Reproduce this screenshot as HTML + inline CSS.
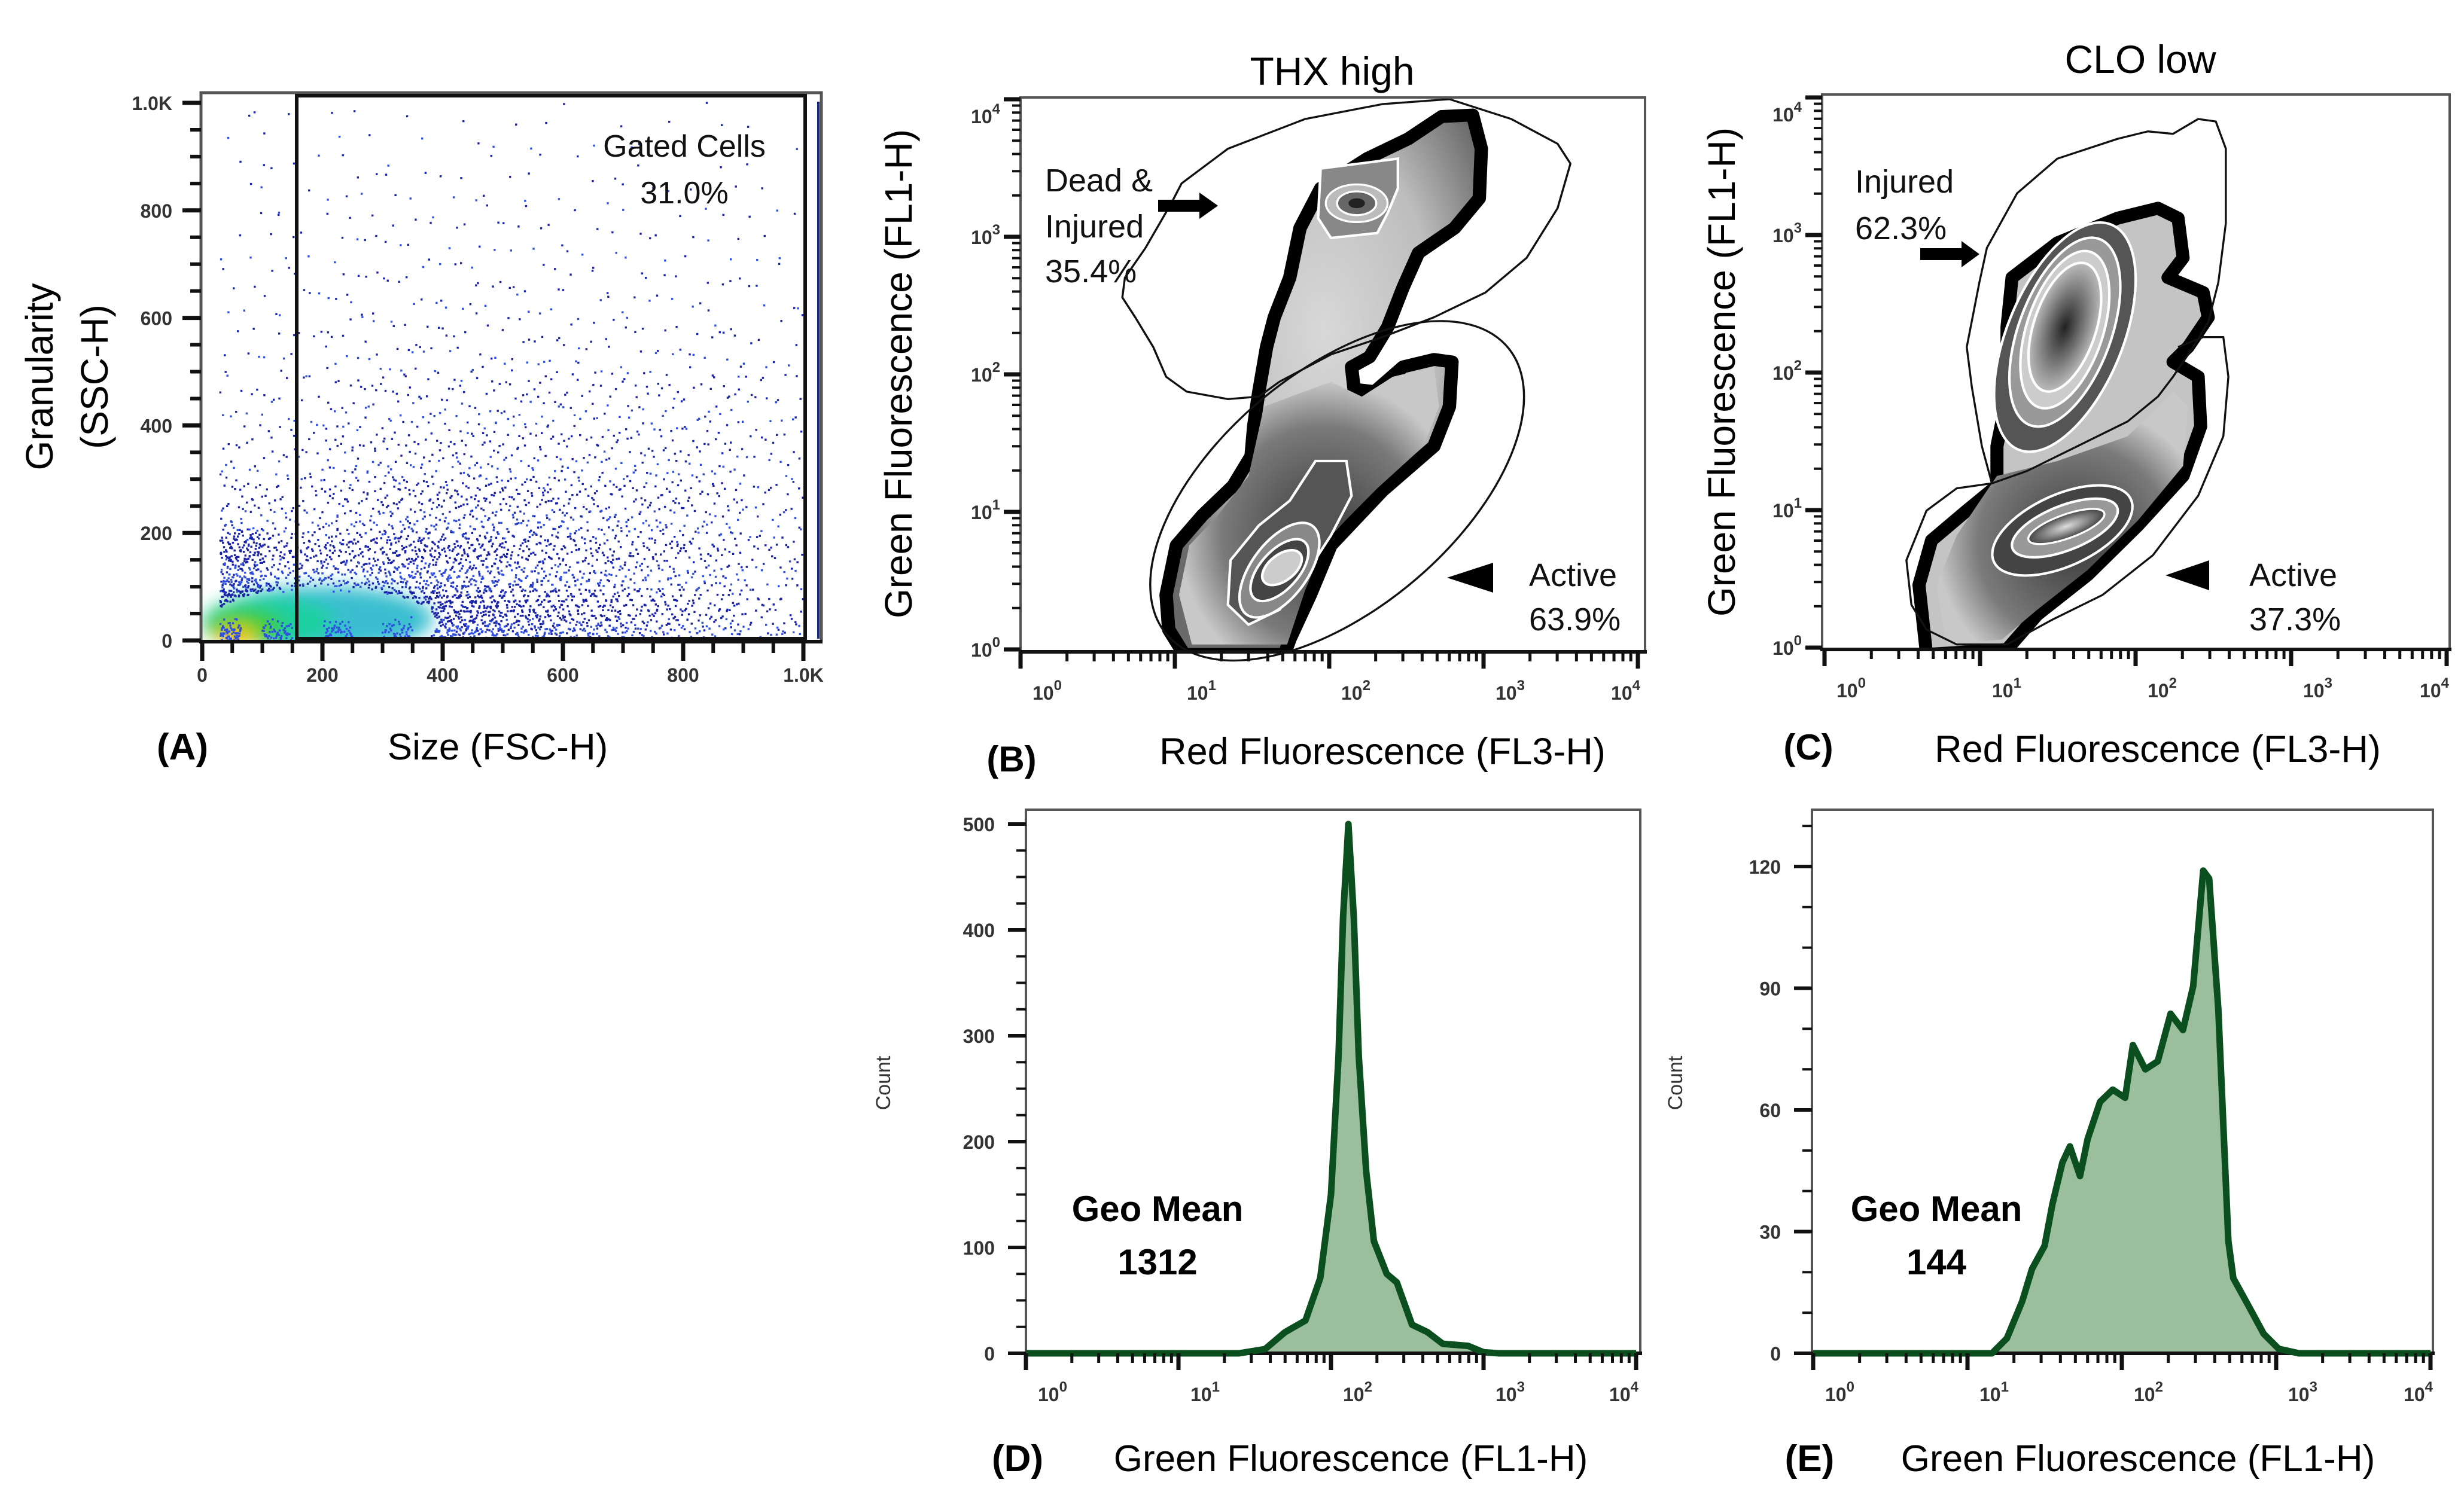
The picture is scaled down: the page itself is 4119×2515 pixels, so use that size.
<!DOCTYPE html>
<html><head><meta charset="utf-8"><title>Flow cytometry panels</title>
<style>
html,body{margin:0;padding:0;background:#fff;}
svg{display:block;}
text{font-family:"Liberation Sans",sans-serif;}
</style></head>
<body>
<svg id="fig" xmlns="http://www.w3.org/2000/svg" width="4119" height="2515" viewBox="0 0 4119 2515">
<defs>
<filter id="blur" x="-50%" y="-50%" width="200%" height="200%"><feGaussianBlur stdDeviation="14"/></filter>
<clipPath id="clipA"><rect x="336" y="155" width="1035" height="916"/></clipPath>
<clipPath id="clipB"><rect x="1706" y="163" width="1044" height="927"/></clipPath>
<clipPath id="clipC"><rect x="3046" y="158" width="1049" height="928"/></clipPath>
<radialGradient id="gUp" cx="50%" cy="40%" r="60%"><stop offset="0" stop-color="#d8d8d8"/><stop offset="0.6" stop-color="#bdbdbd"/><stop offset="1" stop-color="#6a6a6a"/></radialGradient>
<radialGradient id="gLow" cx="55%" cy="60%" r="55%"><stop offset="0" stop-color="#3a3a3a"/><stop offset="0.7" stop-color="#7a7a7a"/><stop offset="1" stop-color="#c8c8c8"/></radialGradient>
<radialGradient id="gRing" cx="50%" cy="50%" r="50%"><stop offset="0" stop-color="#222"/><stop offset="1" stop-color="#bbb"/></radialGradient>
<radialGradient id="gRing2" cx="50%" cy="50%" r="50%"><stop offset="0" stop-color="#ddd"/><stop offset="1" stop-color="#444"/></radialGradient>
</defs>

<g>
  <text x="88" y="630" font-size="64" text-anchor="middle" transform="rotate(-90 88 630)">Granularity</text>
  <text x="180" y="630" font-size="64" text-anchor="middle" transform="rotate(-90 180 630)">(SSC-H)</text>
  <text x="832" y="1270" font-size="62" text-anchor="middle">Size (FSC-H)</text>
  <text x="305" y="1270" font-size="62" font-weight="bold" text-anchor="middle">(A)</text>
  <g id="aDots" clip-path="url(#clipA)"></g>
  <g id="aAxes"></g>
  <rect x="496" y="160" width="850" height="908" fill="none" stroke="#111" stroke-width="6"/>
  <text x="1144" y="262" font-size="52" text-anchor="middle" fill="#111">Gated Cells</text>
  <text x="1144" y="340" font-size="52" text-anchor="middle" fill="#111">31.0%</text>
</g>

<g>
  <text x="2227" y="142" font-size="66" text-anchor="middle">THX high</text>
  <text x="1524" y="625" font-size="64" text-anchor="middle" transform="rotate(-90 1524 625)">Green Fluorescence (FL1-H)</text>
  <text x="2311" y="1278" font-size="63" text-anchor="middle">Red Fluorescence (FL3-H)</text>
  <text x="1691" y="1290" font-size="60" font-weight="bold" text-anchor="middle">(B)</text>
  <g clip-path="url(#clipB)">
   <g transform="matrix(0.861,0,0,0.829,1450,0)">
    <path d="M1115,235 L1175,232 L1192,300 L1188,400 L1140,460 L1070,510 L1040,580 L1010,660 L975,720 L940,740 L945,785 L985,790 L1040,740 L1100,725 L1135,730 L1130,820 L1100,900 L1000,990 L900,1100 L860,1200 L820,1290 L810,1320 L615,1320 L585,1270 L580,1200 L600,1100 L650,1040 L710,980 L745,920 L750,860 L760,790 L775,700 L790,640 L820,560 L840,460 L880,380 L970,320 L1050,280 Z" fill="url(#gUp)" stroke="#000" stroke-width="26" stroke-linejoin="round"/>
    <path d="M770,820 L900,770 L960,800 L1020,760 L1100,740 L1110,820 L1080,900 L990,985 L890,1090 L850,1190 L815,1300 L630,1300 L605,1200 L625,1100 L680,1040 L740,960 Z" fill="url(#gLow)"/>
    <path d="M870,930 L930,930 L940,1000 L900,1080 L850,1160 L800,1230 L740,1260 L700,1220 L705,1130 L760,1060 L820,1010 Z" fill="#555" stroke="#fff" stroke-width="5"/>
    <ellipse cx="800" cy="1150" rx="110" ry="55" transform="rotate(-55 800 1150)" fill="#888" stroke="#fff" stroke-width="5"/>
    <ellipse cx="800" cy="1150" rx="75" ry="38" transform="rotate(-50 800 1150)" fill="#444" stroke="#fff" stroke-width="5"/>
    <ellipse cx="805" cy="1145" rx="45" ry="26" transform="rotate(-40 805 1145)" fill="#ccc" stroke="#fff" stroke-width="5"/>
    <path d="M880,340 L1030,320 L1030,380 L1010,430 L990,470 L900,480 L875,440 Z" fill="#888" stroke="#fff" stroke-width="5"/>
    <ellipse cx="950" cy="410" rx="60" ry="38" fill="#bbb" stroke="#fff" stroke-width="4"/>
    <ellipse cx="950" cy="410" rx="38" ry="24" fill="#666" stroke="#fff" stroke-width="4"/>
    <ellipse cx="950" cy="410" rx="16" ry="10" fill="#222"/>
   </g>
  </g>
  <g transform="matrix(0.861,0,0,0.829,1450,0)">
    <path d="M760,800 L700,805 L620,790 L580,760 L555,700 L520,640 L495,600 L500,560 L540,500 L590,410 L610,370 L700,300 L850,240 L1000,210 L1130,200 L1250,240 L1340,290 L1365,330 L1340,420 L1280,520 L1200,590 L1100,640 L1000,680 L900,715 L800,770 Z" fill="none" stroke="#111" stroke-width="4" stroke-linejoin="round"/>
    <ellipse cx="912" cy="990" rx="440" ry="235" transform="rotate(-42 912 990)" fill="none" stroke="#111" stroke-width="4"/>
  </g>
  <g id="bAxes"></g>
  <text x="1747" y="320" font-size="54" fill="#111">Dead &amp;</text>
  <text x="1747" y="397" font-size="54" fill="#111">Injured</text>
  <text x="1747" y="472" font-size="54" fill="#111">35.4%</text>
  <path d="M1936,334 L2005,334 L2005,322 L2036,344 L2005,366 L2005,354 L1936,354 Z" fill="#000"/>
  <path d="M2419,966 L2496,941 L2496,991 Z" fill="#000"/>
  <text x="2556" y="980" font-size="54" fill="#111">Active</text>
  <text x="2556" y="1054" font-size="54" fill="#111">63.9%</text>
</g>

<g>
  <text x="3578" y="122" font-size="66" text-anchor="middle">CLO low</text>
  <text x="2900" y="622" font-size="64" text-anchor="middle" transform="rotate(-90 2900 622)">Green Fluorescence (FL1-H)</text>
  <text x="3607" y="1274" font-size="63" text-anchor="middle">Red Fluorescence (FL3-H)</text>
  <text x="3023" y="1270" font-size="60" font-weight="bold" text-anchor="middle">(C)</text>
  <g clip-path="url(#clipC)">
   <g transform="matrix(0.841,0,0,0.829,2800,0)">
    <path d="M670,560 L760,490 L880,440 L960,420 L1000,440 L1010,520 L980,560 L1050,590 L1060,640 L1020,700 L990,730 L1040,760 L1045,860 L1010,960 L920,1060 L820,1160 L720,1240 L660,1310 L500,1320 L485,1180 L510,1090 L580,1030 L640,980 L640,900 L660,800 L660,660 Z" fill="#c4c4c4" stroke="#000" stroke-width="26" stroke-linejoin="round"/>
    <path d="M640,960 L760,930 L900,880 L990,790 L1020,820 L1010,940 L920,1050 L820,1150 L720,1230 L650,1290 L540,1300 L520,1180 L560,1080 Z" fill="url(#gLow)"/>
    <ellipse cx="775" cy="680" rx="245" ry="115" transform="rotate(-68 775 680)" fill="#555" stroke="#fff" stroke-width="5"/>
    <ellipse cx="775" cy="670" rx="200" ry="92" transform="rotate(-70 775 670)" fill="#999" stroke="#fff" stroke-width="5"/>
    <ellipse cx="775" cy="665" rx="165" ry="76" transform="rotate(-72 775 665)" fill="#ccc" stroke="#fff" stroke-width="5"/>
    <ellipse cx="775" cy="660" rx="135" ry="62" transform="rotate(-72 775 660)" fill="url(#gRing)" stroke="#fff" stroke-width="5"/>
    <ellipse cx="770" cy="1070" rx="150" ry="72" transform="rotate(-25 770 1070)" fill="#444" stroke="#fff" stroke-width="5"/>
    <ellipse cx="775" cy="1065" rx="112" ry="45" transform="rotate(-22 775 1065)" fill="#999" stroke="#fff" stroke-width="5"/>
    <ellipse cx="778" cy="1062" rx="80" ry="24" transform="rotate(-20 778 1062)" fill="url(#gRing2)" stroke="#fff" stroke-width="4"/>
   </g>
  </g>
  <g transform="matrix(0.841,0,0,0.829,2800,0)">
    <path d="M630,975 L610,900 L590,780 L580,700 L605,570 L620,500 L680,390 L760,320 L880,280 L940,265 L990,270 L1040,240 L1075,245 L1095,300 L1095,450 L1080,570 L1060,650 L1030,700 L990,760 L960,800 L900,850 L800,900 L700,950 Z" fill="none" stroke="#111" stroke-width="4" stroke-linejoin="round"/>
    <path d="M630,975 L560,985 L500,1030 L460,1130 L470,1220 L500,1270 L560,1300 L660,1300 L750,1250 L850,1200 L950,1120 L1040,1000 L1090,880 L1100,760 L1090,680 L1050,680 L1000,700" fill="none" stroke="#111" stroke-width="4" stroke-linejoin="round"/>
  </g>
  <g id="cAxes"></g>
  <text x="3101" y="322" font-size="54" fill="#111">Injured</text>
  <text x="3101" y="400" font-size="54" fill="#111">62.3%</text>
  <path d="M3210,415 L3279,415 L3279,403 L3309,425 L3279,447 L3279,435 L3210,435 Z" fill="#000"/>
  <path d="M3620,962 L3693,937 L3693,987 Z" fill="#000"/>
  <text x="3760" y="980" font-size="54" fill="#111">Active</text>
  <text x="3760" y="1054" font-size="54" fill="#111">37.3%</text>
</g>

<g>
  <text x="1488" y="1811" font-size="34" text-anchor="middle" fill="#333" transform="rotate(-90 1488 1811)">Count</text>
  <g id="dPlot"></g>
  <text x="1935" y="2042" font-size="60" font-weight="bold" text-anchor="middle">Geo Mean</text>
  <text x="1935" y="2131" font-size="60" font-weight="bold" text-anchor="middle">1312</text>
  <text x="1701" y="2460" font-size="62" font-weight="bold" text-anchor="middle">(D)</text>
  <text x="2258" y="2460" font-size="62" text-anchor="middle">Green Fluorescence (FL1-H)</text>
</g>
<g>
  <text x="2812" y="1811" font-size="34" text-anchor="middle" fill="#333" transform="rotate(-90 2812 1811)">Count</text>
  <g id="ePlot"></g>
  <text x="3237" y="2042" font-size="60" font-weight="bold" text-anchor="middle">Geo Mean</text>
  <text x="3237" y="2131" font-size="60" font-weight="bold" text-anchor="middle">144</text>
  <text x="3025" y="2460" font-size="62" font-weight="bold" text-anchor="middle">(E)</text>
  <text x="3574" y="2460" font-size="62" text-anchor="middle">Green Fluorescence (FL1-H)</text>
</g>
</svg>

<script>
// ---------- data ----------
const aXBins = [0,100,200,300,400,500,600,700,800,900];
const aYBins = [0,100,200,300,400,500,600,700,800,900];
const aCounts = [
  [500,420,400,380,330,230,180,130,90,50],
  [200,130,150,190,180,130,100,80,60,35],
  [40,40,60,80,90,80,65,55,45,25],
  [15,22,35,40,45,40,35,35,30,20],
  [10,15,22,25,25,28,25,25,22,15],
  [6,10,14,14,14,14,12,12,12,9],
  [5,8,10,10,10,10,9,9,8,6],
  [4,6,8,8,8,8,6,6,5,5],
  [3,5,6,6,5,5,5,4,4,3],
  [3,3,4,4,3,3,3,3,2,2]
];
const aTicks = [0,200,400,600,800,1000];
const aTickLabels = ["0","200","400","600","800","1.0K"];
const dX = [1,25,37,50,68,85,100,112,120,130,141,152,170,191,232,270,340,429,540,792,998,1259,10000];
const dY = [0,0,4,20,31,71,150,281,412,500,412,281,172,106,75,67,27,20,9,7,1,0,0];
const dTicks = [0,100,200,300,400,500];
const eX = [1,14.4,18,22.6,26.2,31.6,35.5,41.2,46.1,53.6,60,72.3,87.3,105,118,142,171,207,249,290,337,368,422,490,528,662,830,1038,1403,10000];
const eY = [0,0,3.7,12.8,20.8,26.5,36.8,47,51,43.7,52.8,62,65,63,76,70,72,83.7,79.7,90.5,119,117,84.8,27.7,18.5,11.7,4.8,1.1,0,0];
const eTicks = [0,30,60,90,120];
const logDecades = [0,1,2,3,4];

const NS = "http://www.w3.org/2000/svg";
function mk(tag, attrs, parent){
  const e = document.createElementNS(NS, tag);
  for (const k in attrs) e.setAttribute(k, attrs[k]);
  parent.appendChild(e);
  return e;
}
function halton(i, b){ let f=1, r=0; while(i>0){ f/=b; r+=f*(i%b); i=Math.floor(i/b);} return r; }

const ax = v => 338 + v*1.005;
const ay = v => 1071 - v*0.899;
(function(){
  const g = document.getElementById('aDots');
  const core = mk('g', {filter:'url(#blur)'}, g);
  
  
  mk('ellipse', {cx:ax(200), cy:ay(40), rx:185, ry:55, fill:'#18b4c8', opacity:0.85}, core);
  mk('ellipse', {cx:ax(110), cy:ay(35), rx:110, ry:42, fill:'#1fd0a0'}, core);
  mk('ellipse', {cx:ax(70), cy:ay(25), rx:65, ry:32, fill:'#3ccc38'}, core);
  mk('ellipse', {cx:ax(58), cy:ay(8), rx:34, ry:16, fill:'#f2d000'}, core);
  mk('ellipse', {cx:ax(50), cy:ay(3), rx:16, ry:8, fill:'#ff8000'}, core);
  let k = 1;
  for (let r=0; r<aYBins.length; r++){
    for (let c=0; c<aXBins.length; c++){
      const n = aCounts[r][c];
      const x0 = c===0 ? 30 : aXBins[c];
      const x1 = aXBins[c] + 100;
      for (let i=0; i<n; i++, k++){
        let u = halton(k,2), w = halton(k,3);
        if (r===0) w = Math.pow(w, 1.3);
        const vx = x0 + u*(x1-x0), vy = aYBins[r] + w*100 + (halton(k,5)-0.5)*40;
        const e = Math.pow((vx-200)/190,2) + Math.pow((vy-30)/70,2);
        if (e < 1 && (k%6)) continue;
        const d = mk('rect', {x:ax(vx)-1.7, y:ay(vy)-1.7, width:3.4, height:3.4, fill:(k%3? '#1a22a8':'#2f4fe0')}, g);
        
        
      }
    }
  }
  const edge = mk('line', {x1:1368, y1:170, x2:1368, y2:1068, stroke:'#1a2a7a', 'stroke-width':4}, g);
  
  

  const A = document.getElementById('aAxes');
  const fr1 = mk('path', {d:'M336,1071 L336,155 L1373,155 L1373,1071', fill:'none', stroke:'#555', 'stroke-width':5}, A);
  
  
  const xl = mk('line', {x1:333, y1:1073, x2:1375, y2:1073, stroke:'#111', 'stroke-width':6}, A);
  
  
  for (let v=0; v<=1000; v+=50){
    const major = aTicks.includes(v);
    const ty = mk('line', {x1:major?305:318, y1:ay(v), x2:336, y2:ay(v), stroke:'#111', 'stroke-width':major?7:6}, A);
    
    
    const tx = mk('line', {x1:ax(v), y1:1073, x2:ax(v), y2:major?1105:1092, stroke:'#111', 'stroke-width':major?7:6}, A);
    
    
  }
  aTicks.forEach((v,i)=>{
    const t1 = mk('text', {x:288, y:ay(v)+12, 'font-size':32, 'font-weight':'bold', fill:'#333', 'text-anchor':'end'}, A);
    t1.textContent = aTickLabels[i];
    
    
    const t2 = mk('text', {x:ax(v), y:1140, 'font-size':32, 'font-weight':'bold', fill:'#333', 'text-anchor':'middle'}, A);
    t2.textContent = aTickLabels[i];
    
    
  });
})();

function logLabel(parent, x, y, n, anchor){
  const t = mk('text', {x:x, y:y, 'font-size':32, fill:'#333', 'font-weight':'bold', 'text-anchor':anchor||'start'}, parent);
  t.textContent = '10';
  const s = mk('tspan', {dy:-16, 'font-size':24}, t);
  s.textContent = String(n);
  
  
}
function logXAxis(parent, x0, dec, yb){
  logDecades.forEach(d=>{
    const mx = mk('line', {x1:x0+d*dec, y1:yb, x2:x0+d*dec, y2:yb+28, stroke:'#111', 'stroke-width':7}, parent);
    
    
    if (d<4) logLabel(parent, x0+d*dec+20, yb+80, d);
    else logLabel(parent, x0+d*dec+4, yb+80, d, 'end');
    if (d<4) for (let m=2; m<=9; m++){
      const xx = x0 + (d+Math.log10(m))*dec;
      const mn = mk('line', {x1:xx, y1:yb, x2:xx, y2:yb+16, stroke:'#111', 'stroke-width':5}, parent);
      
      
    }
  });
}
function logYAxis(parent, y0, dec, xl){
  logDecades.forEach(d=>{
    const yy0 = y0 - d*dec;
    const mj = mk('line', {x1:xl-28, y1:yy0, x2:xl, y2:yy0, stroke:'#111', 'stroke-width':7}, parent);
    
    
    logLabel(parent, xl-34, yy0 + (d===4?40:12), d, 'end');
    if (d<4) for (let m=2; m<=9; m++){
      const yy = y0 - (d+Math.log10(m))*dec;
      const mn = mk('line', {x1:xl-14, y1:yy, x2:xl, y2:yy, stroke:'#111', 'stroke-width':4}, parent);
      
      
    }
  });
}
function frame(parent, l, t, r, b){
  const f = mk('path', {d:`M${l},${b} L${l},${t} L${r},${t} L${r},${b}`, fill:'none', stroke:'#555', 'stroke-width':4}, parent);
  
  
  const bl = mk('line', {x1:l-3, y1:b, x2:r+3, y2:b, stroke:'#111', 'stroke-width':6}, parent);
  
  
}
(function(){
  const B = document.getElementById('bAxes');
  frame(B, 1706, 163, 2750, 1090);
  logXAxis(B, 1706, 258, 1090);
  logYAxis(B, 1086, 230, 1706);
  const C = document.getElementById('cAxes');
  frame(C, 3046, 158, 4095, 1086);
  logXAxis(C, 3050, 260, 1086);
  logYAxis(C, 1083, 230, 3046);
})();

function histogram(id, xs, ys, ticks, yMaxVal, yMaxPx, x0, dec, left, right, top, base, minorStep, minorMax){
  const P = document.getElementById(id);
  const xp = v => x0 + Math.log10(v)*dec;
  const yp = c => base - c*(base - yMaxPx)/yMaxVal;
  let d = '';
  xs.forEach((v,i)=>{ d += (i? ' L':'M') + Math.min(Math.max(xp(v),left),right).toFixed(1) + ',' + yp(ys[i]).toFixed(1); });
  const fill = mk('path', {d: d + ` L${right},${base} L${left},${base} Z`, fill:'#9bbf9c', stroke:'none'}, P);
  
  
  frame(P, left, top, right, base);
  const line = mk('path', {d:d, fill:'none', stroke:'#0b4f1f', 'stroke-width':11, 'stroke-linejoin':'round'}, P);
  
  
  for (let v=0; v<=minorMax; v+=minorStep){
    const major = ticks.includes(v);
    const t = mk('line', {x1:left-(major?30:16), y1:yp(v), x2:left, y2:yp(v), stroke:'#111', 'stroke-width':major?6:4}, P);
    
    
  }
  ticks.forEach((v,i)=>{
    const t = mk('text', {x:left-52, y:yp(v)+12, 'font-size':32, 'font-weight':'bold', fill:'#333', 'text-anchor':'end'}, P);
    t.textContent = String(v);
    
    
  });
  logXAxis(P, x0, dec, base);
}
histogram('dPlot', dX, dY, dTicks, 500, 1378, 1715, 255, 1715, 2742, 1354, 2263, 25, 500);
histogram('ePlot', eX, eY, eTicks, 120, 1449, 3031, 258, 3029, 4067, 1354, 2263, 10, 130);
</script>
</body></html>
